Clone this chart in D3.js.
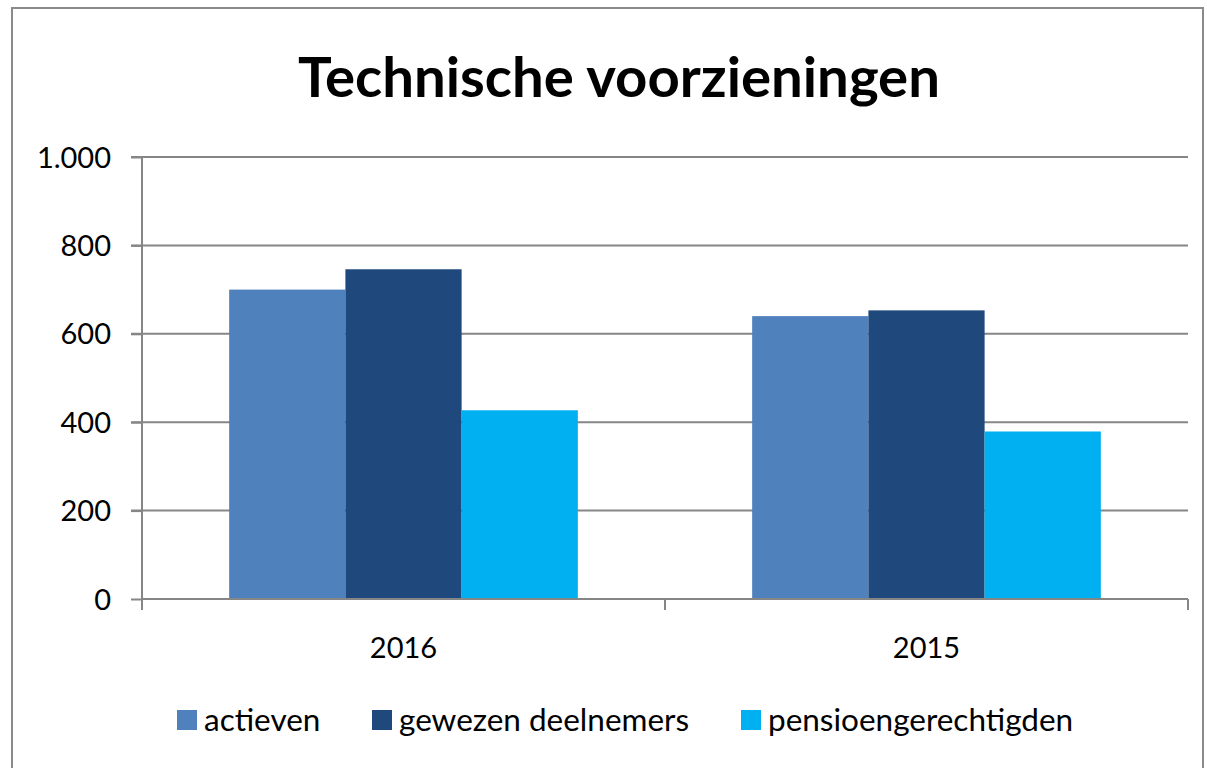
<!DOCTYPE html>
<html><head><meta charset="utf-8">
<script src="https://cdn.jsdelivr.net/npm/d3@7"></script>
<style>body{margin:0;background:#fff}svg{display:block}</style>
</head><body>
<svg id="c" width="1207" height="768"></svg>
<script>
const categories = ["2016", "2015"];
const seriesNames = ["actieven", "gewezen deelnemers", "pensioengerechtigden"];
const actieven = [700, 640];
const gewezen = [746, 653];
const pensioen = [427, 379];
const yTicks = [0, 200, 400, 600, 800, 1000];
const yTickLabels = ["0", "200", "400", "600", "800", "1.000"];
const colors = ["#4F81BD", "#1F497D", "#00B0F0"];
const title = "Technische voorzieningen";

const seriesValues = [actieven, gewezen, pensioen];
const svg = d3.select("#c");
const F = "Lato, 'Open Sans', sans-serif";

svg.append("rect").attr("x", 12).attr("y", 8).attr("width", 1191).attr("height", 800)
  .attr("fill", "#fff").attr("stroke", "#8a8a8a").attr("stroke-width", 2);

const L = 142, R = 1188, T = 157, B = 599;
const x0 = d3.scaleBand().domain(categories).range([L, R]).padding(0);
const x1 = d3.scaleBand().domain(seriesNames).range([0, x0.bandwidth()]).paddingInner(0).paddingOuter(0.75);
const y = d3.scaleLinear().domain([0, 1000]).range([B, T]);

// gridlines
svg.append("g").selectAll("line").data(yTicks.filter(d => d > 0)).join("line")
  .attr("x1", L - 11).attr("x2", R).attr("y1", d => y(d)).attr("y2", d => y(d))
  .attr("stroke", "#868686").attr("stroke-width", 2);

// bars
const groups = svg.append("g").selectAll("g").data(categories).join("g")
  .attr("transform", c => `translate(${x0(c)},0)`);
groups.selectAll("rect").data((c, ci) => seriesNames.map((s, si) => ({s, si, v: seriesValues[si][ci]}))).join("rect")
  .attr("x", d => x1(d.s)).attr("width", x1.bandwidth())
  .attr("y", d => y(d.v)).attr("height", d => B - y(d.v))
  .attr("fill", d => colors[d.si]);

// y axis
const yAxis = d3.axisLeft(y).tickValues(yTicks).tickSize(11).tickPadding(20)
  .tickFormat((d, i) => yTickLabels[i]);
const ya = svg.append("g").attr("transform", `translate(${L},0)`).call(yAxis);
ya.select(".domain").attr("stroke", "#868686").attr("stroke-width", 2).attr("d", `M0,${T}V${B}`);
ya.selectAll(".tick line").attr("stroke", "#868686").attr("stroke-width", 2);
ya.selectAll("text").attr("font-family", F).attr("font-size", 29).attr("fill", "#000").attr("dy", "0.35em");

// x axis
const xa = svg.append("g").attr("transform", `translate(0,${B})`)
  .call(d3.axisBottom(x0).tickSize(0).tickPadding(38));
xa.select(".domain").attr("stroke", "#868686").attr("stroke-width", 2).attr("d", `M${L},0H${R}`);
xa.selectAll("text").attr("font-family", F).attr("font-size", 29).attr("fill", "#000");
// category boundary ticks
const bounds = [L, ...categories.map(c => x0(c) + x0.bandwidth())];
svg.append("g").selectAll("line").data(bounds).join("line")
  .attr("x1", d => d).attr("x2", d => d).attr("y1", B).attr("y2", B + 11)
  .attr("stroke", "#868686").attr("stroke-width", 2);

// title
const t = svg.append("text").attr("x", 619).attr("y", 97).attr("text-anchor", "middle")
  .attr("font-family", F).attr("font-weight", "bold").attr("font-size", 60).attr("fill", "#000").text(title);
const tw = t.node().getComputedTextLength();
t.attr("font-size", 60 * 642 / tw);

// legend
const legX = [177, 372, 741];
const leg = svg.append("g").selectAll("g").data(seriesNames).join("g")
  .attr("transform", (d, i) => `translate(${legX[i]},710)`);
leg.append("rect").attr("width", 20).attr("height", 20).attr("fill", (d, i) => colors[i]);
leg.append("text").attr("x", 27).attr("y", 21).attr("font-family", F).attr("font-size", 31.5).attr("fill", "#000").text(d => d);
</script>
</body></html>
